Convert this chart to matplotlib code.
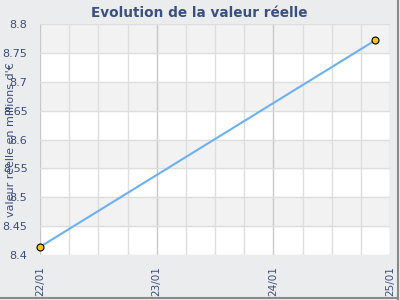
import matplotlib
matplotlib.use("Agg")
import matplotlib.pyplot as plt
from matplotlib.lines import Line2D
import matplotlib.dates as mdates
from datetime import datetime

# data
dates = [datetime(2022, 1, 22, 0, 0), datetime(2022, 1, 24, 21, 0)]
values = [8.414, 8.772]
tick_days = [datetime(2022, 1, d) for d in (22, 23, 24, 25)]
tick_labels = ["22/01", "23/01", "24/01", "25/01"]
y_ticks = [8.4, 8.45, 8.5, 8.55, 8.6, 8.65, 8.7, 8.75, 8.8]

txt = "#3b4f7a"
fig = plt.figure(figsize=(4, 3), dpi=100, facecolor="#ebecee")
ax = fig.add_axes([0.1, 0.15, 0.875, 0.77])
ax.set_facecolor("white")

x0 = mdates.date2num(tick_days[0])
x1 = mdates.date2num(tick_days[-1])
ax.set_xlim(x0, x1)
ax.set_ylim(8.4, 8.8)

# alternating bands, grey at top
for i in range(len(y_ticks) - 1):
    if (len(y_ticks) - 2 - i) % 2 == 0:
        ax.axhspan(y_ticks[i], y_ticks[i + 1], color="#f2f2f2", zorder=0)

# grid: minor every 6 hours, major each day
for k in range(13):
    xv = x0 + k * 0.25
    c = "#c8c8c8" if k % 4 == 0 else "#dedede"
    ax.axvline(xv, color=c, lw=1, zorder=1)
for yv in y_ticks:
    ax.axhline(yv, color="#dedede", lw=1, zorder=1)

ax.plot(mdates.date2num(dates), values, color="#6cb0f5", lw=1.5, zorder=3)
ax.plot(mdates.date2num(dates), values, "o", ms=5, mfc="#f5c518", mec="black",
        mew=0.8, zorder=4, clip_on=False)

ax.set_xticks(mdates.date2num(tick_days))
ax.set_xticklabels(tick_labels, rotation=90, color=txt, fontsize=7.5)
ax.set_yticks(y_ticks)
ax.set_yticklabels([f"{v:g}" for v in y_ticks], color=txt, fontsize=8)
ax.tick_params(axis="y", length=0, pad=9)
ax.tick_params(axis="x", length=0, pad=8)
for s in ax.spines.values():
    s.set_visible(False)

fig.text(0.497, 0.958, "Evolution de la valeur réelle", ha="center", va="center",
         fontsize=9.8, fontweight="bold", color="#3a5080")
fig.text(0.027, 0.535, "valeur réelle en millions d'€", rotation=90,
         ha="center", va="center", fontsize=8, color=txt)

# frame shadow on right and bottom
fig.add_artist(Line2D([0.995, 0.995], [0.005, 1], color="#8a8a8a", lw=1.5,
                      transform=fig.transFigure))
fig.add_artist(Line2D([0, 0.995], [0.007, 0.007], color="#8a8a8a", lw=1.5,
                      transform=fig.transFigure))

fig.savefig("out.png", dpi=100, facecolor=fig.get_facecolor())
